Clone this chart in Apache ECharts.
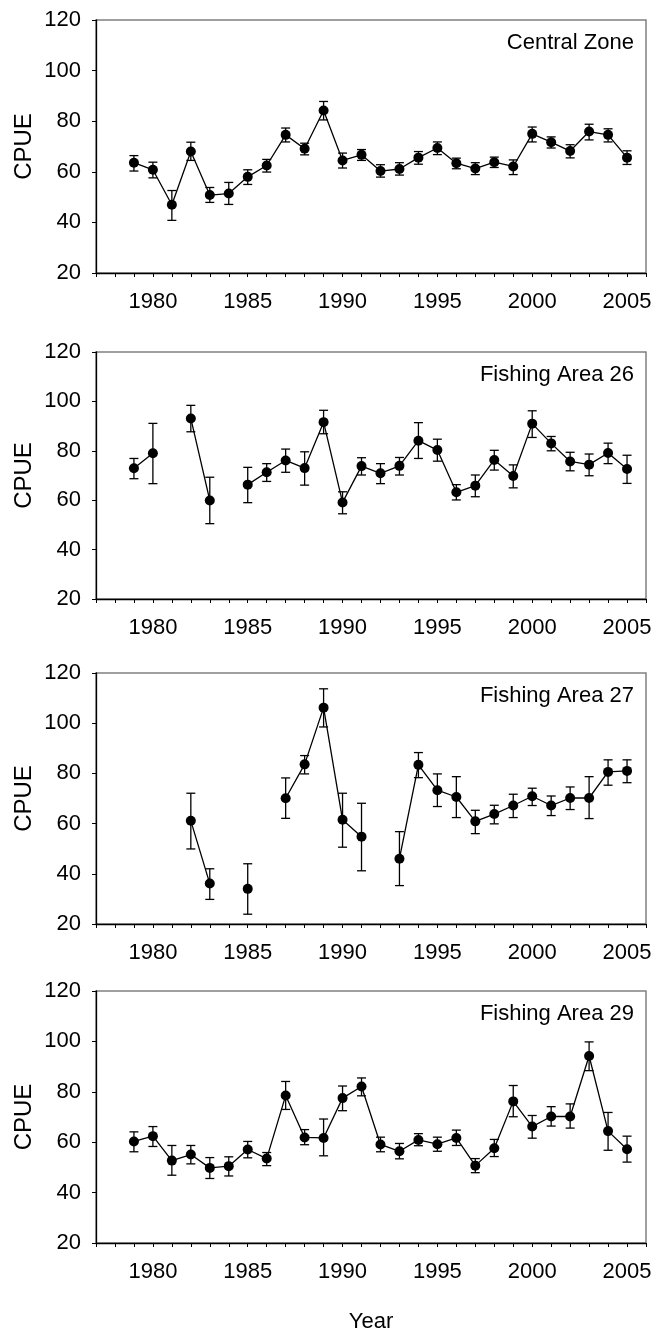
<!DOCTYPE html>
<html>
<head>
<meta charset="utf-8">
<script src="https://cdn.jsdelivr.net/npm/echarts@6/dist/echarts.min.js"></script>
<style>
html,body{margin:0;padding:0;background:#fff;}
#chart{width:652px;height:1331px;}
</style>
</head>
<body>
<div id="chart"></div>
<script>
const years = [1979,1980,1981,1982,1983,1984,1985,1986,1987,1988,1989,1990,1991,1992,1993,1994,1995,1996,1997,1998,1999,2000,2001,2002,2003,2004,2005];
const panelTitles = ['Central Zone','Fishing Area 26','Fishing Area 27','Fishing Area 29'];
const yTicks = [20,40,60,80,100,120];
const xLabelYears = [1980,1985,1990,1995,2000,2005];

const czMean = [63.6,60.8,47.0,68.0,50.8,51.4,58.0,62.5,74.6,69.1,84.2,64.5,66.7,60.3,61.1,65.6,69.4,63.4,61.3,63.8,62.1,75.0,71.7,68.2,75.9,74.6,65.6];
const czLo   = [60.3,57.6,40.8,64.5,47.9,47.1,55.0,59.9,71.8,66.7,80.5,61.5,64.5,57.9,58.7,63.0,66.8,61.2,58.9,61.7,58.9,71.8,69.4,65.5,72.6,71.8,62.9];
const czHi   = [66.4,63.8,52.6,71.7,53.8,55.8,60.8,64.9,77.3,71.3,87.8,67.4,68.8,62.8,63.6,68.0,71.8,65.4,63.6,65.8,64.7,77.7,73.8,70.7,78.8,77.0,68.3];

const a26Mean = [72.9,79.0,null,93.1,59.9,null,66.3,71.3,76.1,73.0,91.6,59.1,73.8,70.9,73.9,84.1,80.3,63.2,65.9,76.3,69.8,91.0,83.0,75.7,74.4,79.1,72.6];
const a26Lo   = [68.7,66.7,null,87.7,50.5,null,59.0,67.6,71.3,66.1,86.9,54.5,70.2,66.7,70.2,76.9,75.8,60.1,61.4,72.2,65.0,85.4,80.0,71.9,69.9,74.8,66.8];
const a26Hi   = [76.9,91.1,null,98.4,69.3,null,73.3,74.8,80.7,79.6,96.4,63.4,77.2,74.8,77.3,91.4,84.7,66.3,70.2,80.2,74.3,96.2,85.8,79.4,78.7,83.1,78.2];

const a27Mean = [null,null,null,61.1,36.1,null,34.0,null,70.1,83.6,106.2,61.5,54.8,null,46.0,83.4,73.3,70.6,60.9,63.8,67.2,70.9,67.2,70.2,70.2,80.6,81.0];
const a27Lo   = [null,null,null,49.9,29.8,null,23.9,null,62.1,79.8,98.5,50.6,41.2,null,35.3,78.3,66.8,62.4,56.0,59.9,62.4,67.2,63.2,65.6,62.0,75.3,76.3];
const a27Hi   = [null,null,null,72.1,42.0,null,44.0,null,78.2,87.1,113.7,72.1,68.1,null,56.8,88.3,79.8,78.7,65.3,67.3,71.7,74.1,71.0,74.6,78.7,85.4,85.4];

const a29Mean = [60.3,62.4,52.7,55.1,49.8,50.5,57.1,53.5,78.5,61.9,61.7,77.5,82.1,59.1,56.4,60.9,59.2,61.7,50.7,57.6,76.2,66.2,70.2,70.2,94.2,64.4,57.2];
const a29Lo   = [56.2,58.3,46.9,51.4,45.6,46.6,53.8,50.7,73.0,59.0,54.6,72.5,78.4,56.2,53.4,58.6,56.4,58.7,47.9,54.3,70.1,61.6,66.4,65.6,88.4,56.8,52.1];
const a29Hi   = [64.1,66.2,58.7,58.7,53.9,54.2,60.3,55.9,84.1,65.0,69.2,82.3,85.5,62.0,59.5,63.4,62.0,64.8,53.5,61.1,82.5,70.6,74.1,75.2,99.8,71.8,62.4];

const panels = [
  {mean: czMean, lo: czLo, hi: czHi},
  {mean: a26Mean, lo: a26Lo, hi: a26Hi},
  {mean: a27Mean, lo: a27Lo, hi: a27Hi},
  {mean: a29Mean, lo: a29Lo, hi: a29Hi}
];

const FONT = "'Liberation Sans', Arial, sans-serif";
const gridTops = [20, 352, 673, 991];
const gridHeights = [253, 247, 251, 252];

const grids = [], xAxes = [], yAxes = [], series = [], titles = [];
panels.forEach((p, k) => {
  grids.push({left: 96, right: 6, top: gridTops[k], height: gridHeights[k], show: true,
    outerBoundsMode: 'none', containLabel: false,
    borderColor: '#808080', borderWidth: 1.5, backgroundColor: 'transparent'});
  xAxes.push({
    type: 'value', gridIndex: k, min: 1977, max: 2006, interval: 1,
    axisLine: {show: true, onZero: false, lineStyle: {color: '#000', width: 1.3}},
    axisTick: {show: true, inside: false, length: 4, lineStyle: {color: '#000', width: 1}},
    splitLine: {show: false},
    axisLabel: {show: true, margin: 18, color: '#000', fontFamily: FONT, fontSize: 22,
      formatter: v => xLabelYears.indexOf(v) >= 0 ? String(v) : ''},
    name: k === 3 ? 'Year' : '', nameLocation: 'middle', nameGap: 68,
    nameTextStyle: {color: '#000', fontFamily: FONT, fontSize: 22}
  });
  yAxes.push({
    type: 'value', gridIndex: k, min: yTicks[0], max: yTicks[yTicks.length-1], interval: 20,
    axisLine: {show: true, onZero: false, lineStyle: {color: '#000', width: 1.3}},
    axisTick: {show: true, inside: false, length: 4, lineStyle: {color: '#000', width: 1}},
    splitLine: {show: false},
    axisLabel: {show: true, margin: 15, color: '#000', fontFamily: FONT, fontSize: 22},
    name: 'CPUE', nameLocation: 'middle', nameGap: 60, nameMoveOverlap: false,
    nameTextStyle: {color: '#000', fontFamily: FONT, fontSize: 24}
  });
  titles.push({text: panelTitles[k], right: 18, top: gridTops[k] + 12, padding: 0,
    textStyle: {color: '#000', fontFamily: FONT, fontSize: 22, fontWeight: 'normal'}});
  const ebData = [];
  years.forEach((y, i) => { if (p.mean[i] !== null) ebData.push([y, p.lo[i], p.hi[i]]); });
  series.push({
    type: 'custom', xAxisIndex: k, yAxisIndex: k, data: ebData, z: 3,
    encode: {x: 0, y: [1, 2]},
    renderItem: function (params, api) {
      const x = api.value(0);
      const lo = api.coord([x, api.value(1)]);
      const hi = api.coord([x, api.value(2)]);
      const hw = 4.5;
      const st = {stroke: '#000', lineWidth: 1.3, fill: null};
      return {type: 'group', children: [
        {type: 'line', shape: {x1: lo[0], y1: lo[1], x2: hi[0], y2: hi[1]}, style: st},
        {type: 'line', shape: {x1: lo[0]-hw, y1: lo[1], x2: lo[0]+hw, y2: lo[1]}, style: st},
        {type: 'line', shape: {x1: hi[0]-hw, y1: hi[1], x2: hi[0]+hw, y2: hi[1]}, style: st}
      ]};
    }
  });
  series.push({
    type: 'line', xAxisIndex: k, yAxisIndex: k, z: 4,
    data: years.map((y, i) => [y, p.mean[i] === null ? '-' : p.mean[i]]),
    connectNulls: false, symbol: 'circle', symbolSize: 10, showSymbol: true,
    lineStyle: {color: '#000', width: 1.3}, itemStyle: {color: '#000'},
    animation: false
  });
});

const chart = echarts.init(document.getElementById('chart'), null, {renderer: 'canvas'});
chart.setOption({
  animation: false,
  backgroundColor: '#fff',
  title: titles,
  grid: grids,
  xAxis: xAxes,
  yAxis: yAxes,
  series: series
});
</script>
</body>
</html>
